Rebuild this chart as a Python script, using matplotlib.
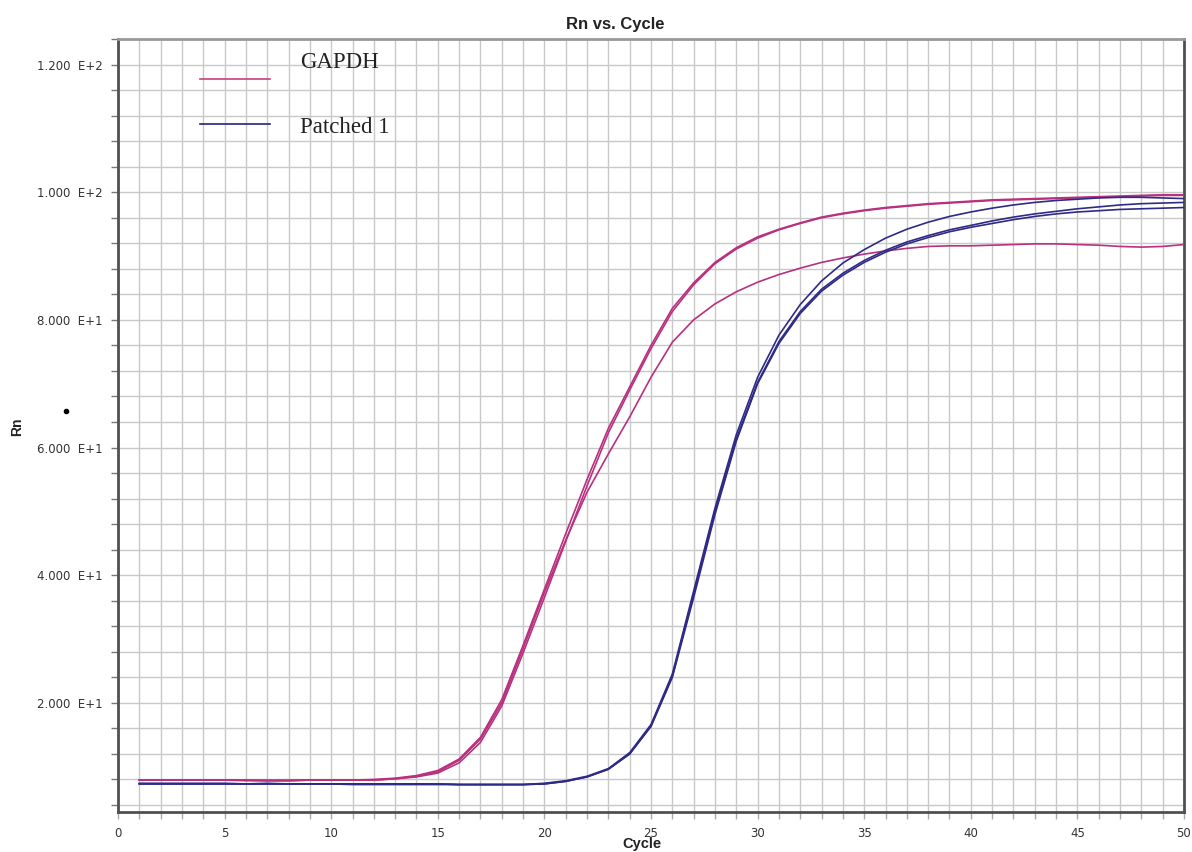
import matplotlib
matplotlib.use("Agg")
import matplotlib.pyplot as plt
from matplotlib.lines import Line2D
import numpy as np

cycles = list(range(1, 51))

gapdh_1 = [7.9, 7.9, 7.9, 7.9, 7.9, 7.8, 7.8, 7.8, 7.9, 7.9, 7.9, 8.0, 8.2, 8.6, 9.4,
           11.2, 14.6, 20.5, 29.0, 37.8, 46.5, 55.0, 63.0, 69.5, 76.0, 81.8, 85.8, 89.0,
           91.3, 93.0, 94.2, 95.2, 96.1, 96.7, 97.2, 97.6, 97.9, 98.2, 98.4, 98.6, 98.8,
           98.9, 99.0, 99.1, 99.2, 99.3, 99.4, 99.5, 99.6, 99.6]
gapdh_2 = [7.9, 7.9, 7.9, 7.9, 7.9, 7.9, 7.8, 7.8, 7.9, 7.9, 7.9, 7.9, 8.1, 8.4, 9.0,
           10.6, 13.8, 19.5, 27.8, 36.5, 45.3, 54.0, 62.3, 69.0, 75.5, 81.3, 85.5, 88.8,
           91.1, 92.8, 94.1, 95.1, 96.0, 96.6, 97.1, 97.5, 97.8, 98.1, 98.3, 98.5, 98.7,
           98.8, 98.9, 99.0, 99.1, 99.2, 99.3, 99.4, 99.5, 99.5]
gapdh_3 = [7.9, 7.9, 7.9, 7.9, 7.9, 7.9, 7.9, 7.9, 7.9, 7.9, 7.9, 7.9, 8.1, 8.5, 9.2,
           11.0, 14.3, 20.0, 28.5, 37.3, 45.5, 53.0, 59.0, 64.8, 71.0, 76.5, 80.0, 82.5,
           84.4, 85.9, 87.1, 88.1, 89.0, 89.7, 90.3, 90.8, 91.2, 91.5, 91.6, 91.6, 91.7,
           91.8, 91.9, 91.9, 91.8, 91.7, 91.5, 91.4, 91.5, 91.8]

patched_1 = [7.4, 7.4, 7.4, 7.4, 7.4, 7.3, 7.3, 7.3, 7.3, 7.3, 7.3, 7.3, 7.3, 7.3, 7.3,
             7.2, 7.2, 7.2, 7.2, 7.4, 7.8, 8.5, 9.7, 12.2, 16.6, 24.5, 37.5, 50.5, 62.0,
             71.0, 77.6, 82.4, 86.1, 88.9, 91.0, 92.8, 94.2, 95.3, 96.2, 96.9, 97.5, 98.0,
             98.4, 98.7, 98.9, 99.1, 99.2, 99.2, 99.1, 99.0]
patched_2 = [7.3, 7.3, 7.3, 7.3, 7.3, 7.3, 7.4, 7.3, 7.3, 7.3, 7.2, 7.2, 7.2, 7.2, 7.2,
             7.2, 7.2, 7.2, 7.2, 7.3, 7.7, 8.4, 9.6, 12.0, 16.4, 24.2, 37.0, 50.0, 61.3,
             70.2, 76.6, 81.3, 84.8, 87.3, 89.3, 90.9, 92.2, 93.2, 94.1, 94.8, 95.5, 96.1,
             96.6, 97.0, 97.4, 97.7, 98.0, 98.2, 98.3, 98.4]
patched_3 = [7.3, 7.3, 7.3, 7.3, 7.3, 7.3, 7.3, 7.3, 7.3, 7.3, 7.3, 7.3, 7.3, 7.3, 7.3,
             7.2, 7.2, 7.2, 7.2, 7.3, 7.7, 8.4, 9.6, 12.0, 16.3, 24.0, 36.5, 49.5, 61.0,
             70.0, 76.3, 81.0, 84.5, 87.0, 89.0, 90.6, 91.9, 92.9, 93.8, 94.5, 95.1, 95.7,
             96.2, 96.6, 96.9, 97.1, 97.3, 97.4, 97.5, 97.6]

y_major = [20, 40, 60, 80, 100, 120]
y_labels = ["2.000  E+1", "4.000  E+1", "6.000  E+1", "8.000  E+1", "1.000  E+2", "1.200  E+2"]
x_major = [0, 5, 10, 15, 20, 25, 30, 35, 40, 45, 50]

pink = "#b8307e"
blue = "#2e2a86"

fig = plt.figure(figsize=(11.92, 8.52), dpi=100)
ax = fig.add_axes([118/1192, 1-812/852, (1184-118)/1192, (812-39)/852])

for s in [gapdh_3, gapdh_2, gapdh_1]:
    ax.plot(cycles, s, color=pink, lw=1.2, zorder=3)
for s in [patched_3, patched_2, patched_1]:
    ax.plot(cycles, s, color=blue, lw=1.2, zorder=3)

ax.set_xlim(0, 50)
ax.set_ylim(2.9, 124)
ax.set_xticks(x_major)
ax.set_xticklabels([str(v) for v in x_major])
ax.set_xticks(np.arange(0, 51, 1), minor=True)
ax.set_yticks(y_major)
ax.set_yticklabels(y_labels)
ax.set_yticks(np.arange(4, 125, 4), minor=True)
ax.grid(True, which="both", color="#c8c8c8", lw=1.0, zorder=0)
ax.set_axisbelow(True)

ax.tick_params(axis="y", which="both", direction="out", length=5, width=1,
               color="#777777", labelsize=8.5, labelcolor="#333333", pad=6)
ax.tick_params(axis="x", which="both", direction="out", length=5, width=1,
               color="#aaaaaa", labelsize=8.5, labelcolor="#333333", pad=6)

for side in ["left", "bottom", "right"]:
    ax.spines[side].set_color("#505050")
    ax.spines[side].set_linewidth(2)
ax.spines["top"].set_color("#999999")
ax.spines["top"].set_linewidth(2)

# legend drawn manually
ax.plot([0.077, 0.1426], [0.948, 0.948], color="#c8407a", lw=1.2, transform=ax.transAxes, zorder=4)
ax.plot([0.077, 0.1426], [0.890, 0.890], color="#282080", lw=1.2, transform=ax.transAxes, zorder=4)
ax.text(0.1707, 0.969, "GAPDH", transform=ax.transAxes, fontsize=16.5,
        family="Liberation Serif", va="center", ha="left", color="#222222")
ax.text(0.1707, 0.886, "Patched 1", transform=ax.transAxes, fontsize=16.5,
        family="Liberation Serif", va="center", ha="left", color="#222222")

fig.text(615/1192, 1-24/852, "Rn vs. Cycle", ha="center", va="center",
         fontsize=12, fontweight="bold", family="Liberation Sans", color="#222222")
fig.text(642/1192, 1-844/852, "Cycle", ha="center", va="center",
         fontsize=10.5, fontweight="bold", family="Liberation Sans", color="#222222")
fig.text(17/1192, 1-427/852, "Rn", ha="center", va="center", rotation=90,
         fontsize=10, fontweight="bold", family="Liberation Sans", color="#222222")
fig.add_artist(Line2D([66/1192], [1-411/852], marker="o", ms=3, color="black",
                      transform=fig.transFigure))

fig.savefig("out.png", dpi=100, facecolor="white")
